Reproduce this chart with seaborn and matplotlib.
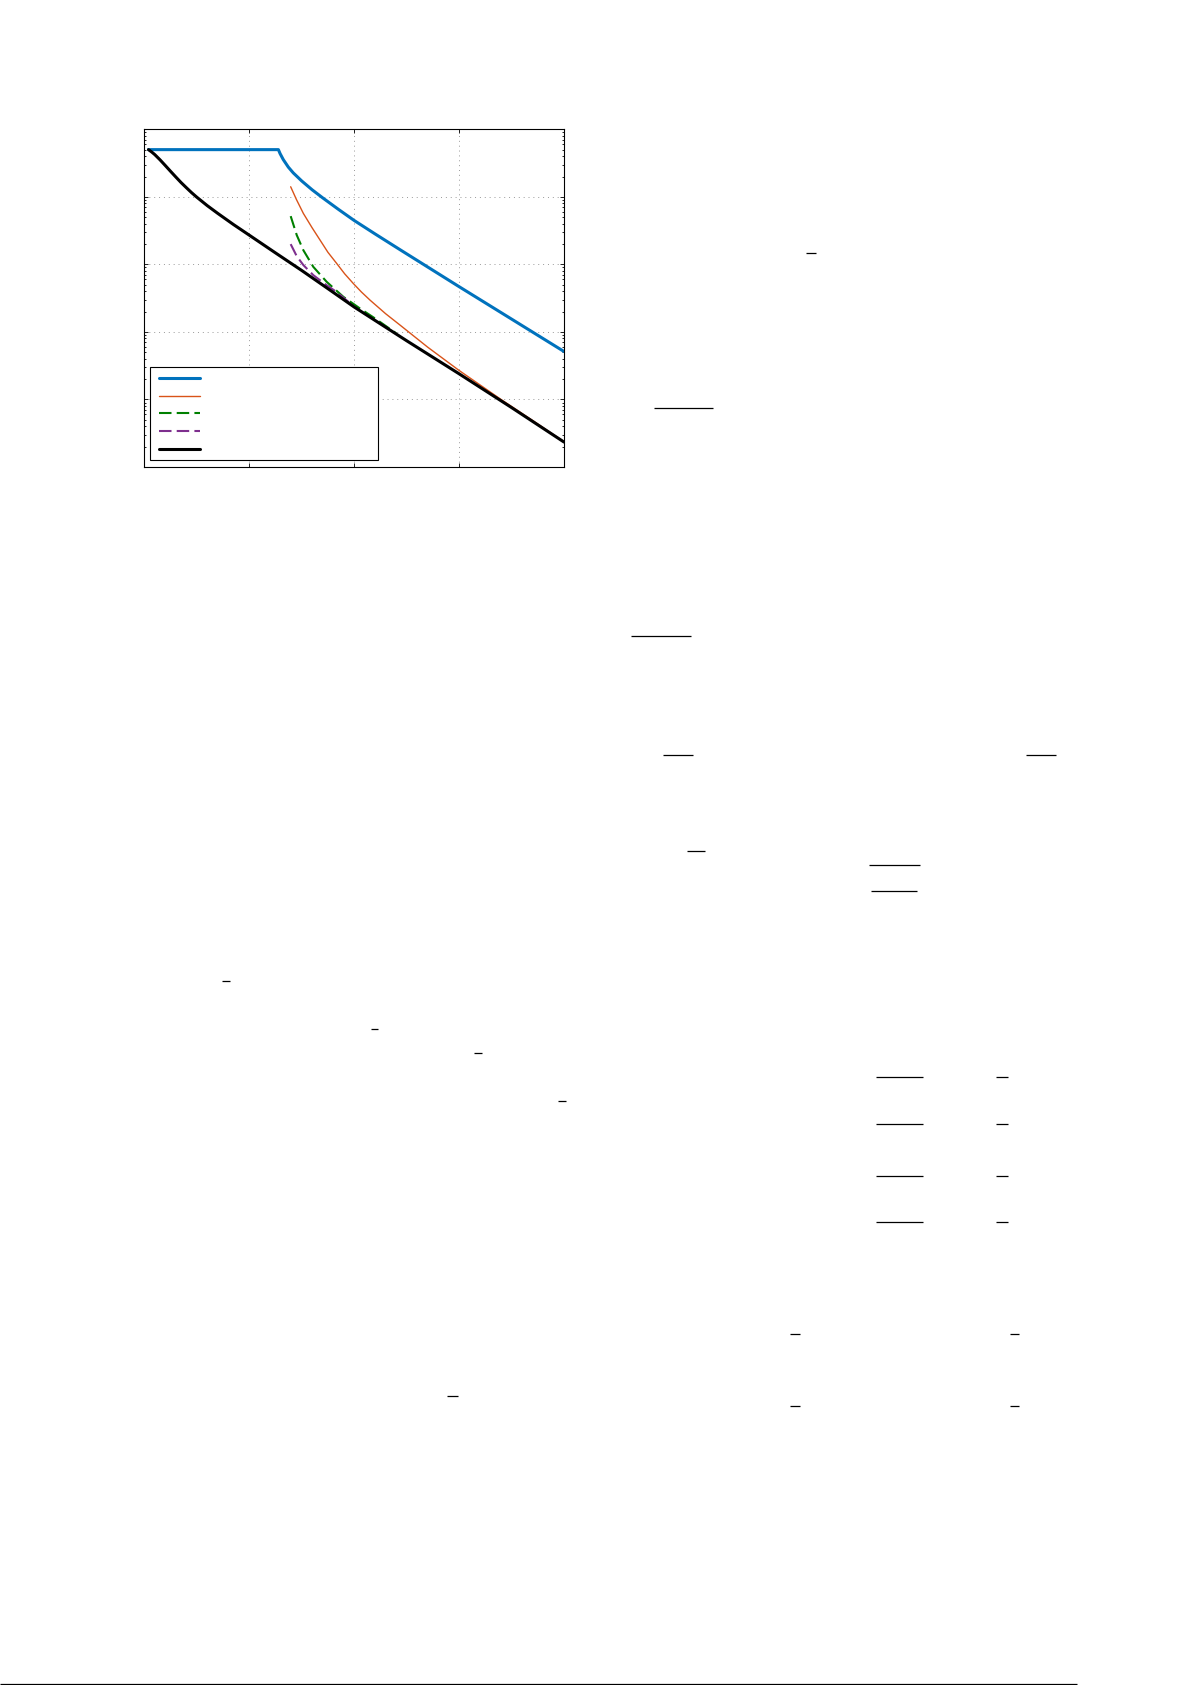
import matplotlib
matplotlib.use("Agg")
import matplotlib.pyplot as plt
import seaborn as sns
from matplotlib.ticker import LogLocator, NullFormatter, FixedLocator

# Kurvedata (x i enheder af gitteret, y = sandsynlighed)
x_blue = [0.04, 1.278, 1.294, 1.325, 1.373, 1.42, 1.50, 1.60, 1.70, 1.85,
          2.0, 2.2, 2.44, 3.0, 3.5, 4.0]
y_blue = [0.5, 0.5, 0.437, 0.355, 0.275, 0.226, 0.172, 0.127, 0.0966, 0.0653,
          0.0447, 0.0282, 0.0164, 4.68e-3, 1.55e-3, 5.13e-4]

x_orange = [1.395, 1.45, 1.516, 1.60, 1.675, 1.75, 1.834, 1.91, 1.992, 2.07,
            2.152, 2.3, 2.438, 2.7, 3.0, 3.4, 3.7, 4.0]
y_orange = [0.141, 0.0912, 0.0568, 0.0347, 0.0229, 0.0151, 0.0103, 7.24e-3,
            5.21e-3, 3.89e-3, 2.95e-3, 1.86e-3, 1.26e-3, 5.96e-4, 2.69e-4,
            1.0e-4, 4.9e-5, 2.37e-5]

x_green = [1.395, 1.453, 1.516, 1.611, 1.739, 1.897, 2.056, 2.2, 2.4]
y_green = [0.0518, 0.0271, 0.0162, 9.18e-3, 5.50e-3, 3.31e-3, 2.22e-3,
           1.58e-3, 9.55e-4]

x_purple = [1.395, 1.453, 1.516, 1.611, 1.739, 1.834, 1.95]
y_purple = [0.01995, 0.0132, 9.77e-3, 6.92e-3, 4.90e-3, 3.89e-3, 2.75e-3]

x_black = [0.04, 0.07, 0.10, 0.15, 0.20, 0.25, 0.30, 0.35, 0.40, 0.45, 0.50,
           0.60, 0.70, 0.85, 1.0, 1.25, 1.5, 1.75, 2.0, 2.5, 3.0, 3.5, 4.0]
y_black = [0.5, 0.462, 0.422, 0.353, 0.291, 0.239, 0.197, 0.163, 0.137,
           0.1156, 0.0989, 0.0741, 0.0569, 0.0389, 0.0271, 0.0148, 8.13e-3,
           4.37e-3, 2.34e-3, 7.41e-4, 2.40e-4, 7.59e-5, 2.34e-5]

legend_labels = ["", "", "", "", ""]
x_ticks = [0, 1, 2, 3, 4]

# Brøkstreger og bundlinje på siden (pixel: y, x_start, x_slut)
rule_y = [253.3, 408.3, 636, 755.3, 755.3, 850.7, 865.3, 891, 981, 1029,
          1053.3, 1101.3, 1077.3, 1077.3, 1124.3, 1124.3, 1176.3, 1176.3,
          1222.3, 1222.3, 1334, 1334, 1396, 1406, 1406, 1684]
rule_x0 = [806, 654, 631, 663.3, 1026.3, 687.3, 869, 871, 222.3, 370.7,
           474, 558.3, 876, 996, 876, 996, 876, 996, 876, 996, 789.6, 1009.7,
           446.9, 789.6, 1009.7, 0]
rule_x1 = [816, 712.7, 690.7, 692.7, 1055.7, 704.7, 919.7, 916.7, 230, 378.3,
           482, 566, 922.7, 1008, 922.7, 1008, 922.7, 1008, 922.7, 1008, 800.3,
           1019.2, 457.5, 800, 1019, 1076.7]

sns.set_theme(style="white")
plt.rcParams["font.family"] = ["DejaVu Sans"]

fig = plt.figure(figsize=(11.92, 16.85), dpi=100)

# Sidens streger
page = fig.add_axes([0, 0, 1, 1], zorder=0)
page.set_xlim(0, 1192)
page.set_ylim(1685, 0)
page.axis("off")
page.hlines(rule_y, rule_x0, rule_x1, color="black", linewidth=0.9)

ax = fig.add_axes([144.3 / 1192, 1 - 467 / 1685, 419.7 / 1192, 337.7 / 1685], zorder=2)
ax.set_yscale("log")

sns.lineplot(x=x_blue, y=y_blue, ax=ax, color="#0072BD", linewidth=2.2,
             sort=False, estimator=None)
sns.lineplot(x=x_orange, y=y_orange, ax=ax, color="#D95319", linewidth=1.0,
             sort=False, estimator=None)
sns.lineplot(x=x_green, y=y_green, ax=ax, color="#008000", linewidth=1.5,
             linestyle=(0, (6, 2.5)), sort=False, estimator=None)
sns.lineplot(x=x_purple, y=y_purple, ax=ax, color="#7E2F8E", linewidth=1.5,
             linestyle=(0, (6, 2.5)), sort=False, estimator=None)
sns.lineplot(x=x_black, y=y_black, ax=ax, color="black", linewidth=2.2,
             sort=False, estimator=None)

ax.set_xlim(0, 4)
ax.set_ylim(1e-5, 1)
ax.xaxis.set_major_locator(FixedLocator(x_ticks))
ax.yaxis.set_major_locator(LogLocator(base=10, numticks=10))
ax.yaxis.set_minor_locator(LogLocator(base=10, subs=range(2, 10), numticks=20))
ax.xaxis.set_major_formatter(NullFormatter())
ax.yaxis.set_major_formatter(NullFormatter())
ax.yaxis.set_minor_formatter(NullFormatter())
ax.tick_params(which="both", direction="in", top=True, right=True,
               bottom=True, left=True, width=0.6, color="black")
ax.tick_params(which="major", length=3)
ax.tick_params(which="minor", length=1.6)
ax.set_axisbelow(True)
ax.grid(True, which="major", linestyle=(0, (1, 4)), color="0.6", linewidth=0.7)
for sp in ax.spines.values():
    sp.set_color("black")
    sp.set_linewidth(0.8)

handles = ax.get_lines()[:5]
leg = ax.legend(handles, legend_labels, loc="lower left",
                bbox_to_anchor=(0.0143, 0.0207, 0.5432, 0.2745), mode="expand",
                borderaxespad=0, fontsize=2.45, borderpad=2.65, labelspacing=4.03,
                handlelength=12, handletextpad=1, fancybox=False, framealpha=1,
                edgecolor="black")
leg.get_frame().set_linewidth(0.8)

fig.savefig("out.png", dpi=100)
